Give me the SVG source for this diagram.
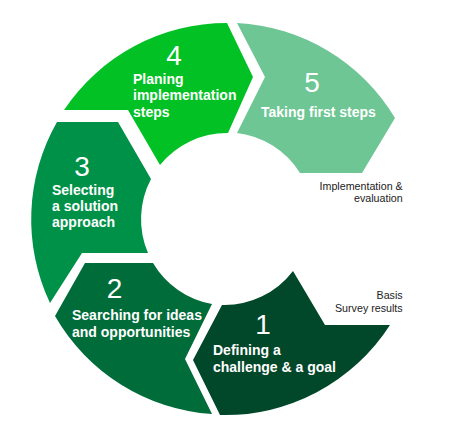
<svg xmlns="http://www.w3.org/2000/svg" width="450" height="436" viewBox="0 0 450 436">
<style>
.lbl{font-family:"Liberation Sans",Arial,Helvetica,sans-serif;font-weight:bold;font-size:14px;fill:#fff}
.num{font-family:"Liberation Sans",Arial,Helvetica,sans-serif;font-size:28px;fill:#fff;text-anchor:middle}
.note{font-family:"Liberation Sans",Arial,Helvetica,sans-serif;font-size:10.7px;fill:#222;text-anchor:end}
</style>
<rect width="450" height="436" fill="#fff"/>
<g id="connectors"/>
<g id="step1">
<path d="M293,271 L325,325 L390,325 A196,196 0 0 1 220,415 L193,360 L222,305 A86,86 0 0 0 293,271 Z" fill="#01472A"/>
<text class="num" x="263" y="334">1</text>
<text class="lbl" x="213" y="355">Defining a</text>
<text class="lbl" x="213" y="371.5">challenge &amp; a goal</text>
</g>
<g id="step2">
<path d="M212,304 L185,359 L212,414 A196,196 0 0 1 55,316 L85,263 L153,263 A86,86 0 0 0 212,304 Z" fill="#006C3A"/>
<text class="num" x="114.5" y="298">2</text>
<text class="lbl" x="72" y="320">Searching for ideas</text>
<text class="lbl" x="72" y="336.5">and opportunities</text>
</g>
<g id="step3">
<path d="M148,253 L82,253 L50,303 A196,196 0 0 1 57,122 L118,122 L151,179 A86,86 0 0 0 148,253 Z" fill="#009148"/>
<text class="num" x="82" y="176">3</text>
<text class="lbl" x="52" y="194.5">Selecting</text>
<text class="lbl" x="52" y="211">a solution</text>
<text class="lbl" x="52" y="227">approach</text>
</g>
<g id="step4">
<path d="M64,110 A196,196 0 0 1 227,23 L253,77 L228,133 A86,86 0 0 0 160,165 L128,110 Z" fill="#02C124"/>
<text class="num" x="174" y="65">4</text>
<text class="lbl" x="133" y="83.5">Planing</text>
<text class="lbl" x="133" y="100">implementation</text>
<text class="lbl" x="133" y="116.5">steps</text>
</g>
<g id="step5">
<path d="M237,23 A196,196 0 0 1 395,118 L362,173 L300,173 A86,86 0 0 0 237,133 L265,77 Z" fill="#6DC693"/>
<text class="num" x="312" y="92">5</text>
<text class="lbl" x="261" y="117">Taking first steps</text>
</g>
<g id="note-evaluation">
<text class="note" x="402.7" y="189.5">Implementation &amp;</text>
<text class="note" x="402.7" y="202">evaluation</text>
</g>
<g id="note-basis">
<text class="note" x="402.7" y="299">Basis</text>
<text class="note" x="402.7" y="311.5">Survey results</text>
</g>
</svg>
